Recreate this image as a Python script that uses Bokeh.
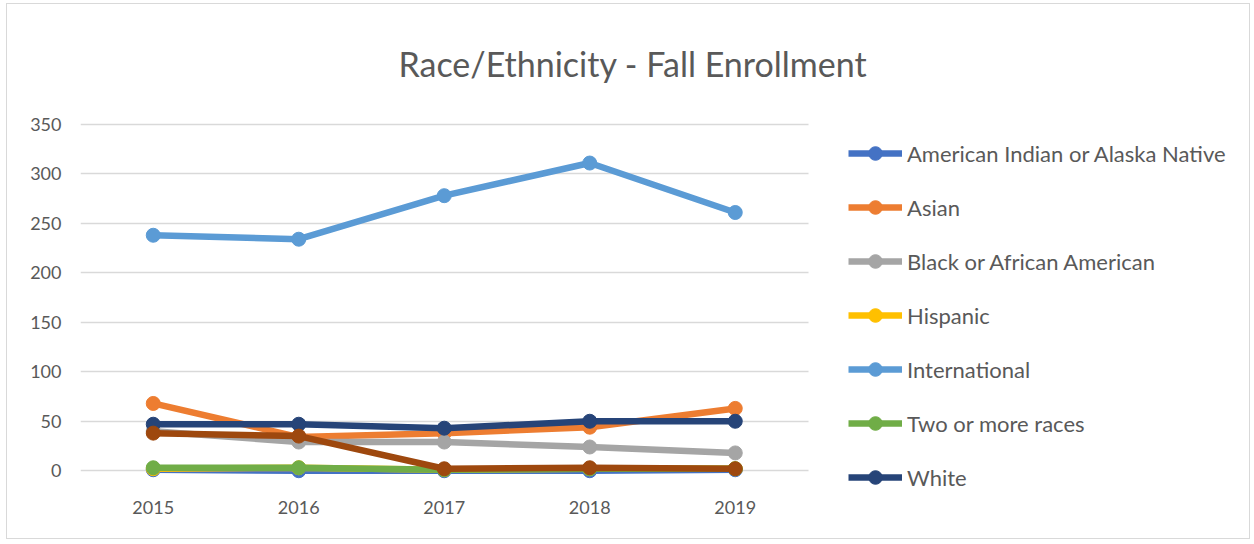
from bokeh.plotting import figure
from bokeh.models import Range1d, Legend, LegendItem, SingleIntervalTicker, FixedTicker
from bokeh.embed import file_html
from bokeh.resources import INLINE

years = ["2015", "2016", "2017", "2018", "2019"]

american_indian = [1, 0, 0, 0, 1]
asian = [68, 34, 38, 44, 63]
black = [40, 29, 29, 24, 18]
hispanic = [2, 3, 1, 2, 2]
international = [238, 234, 278, 311, 261]
two_or_more = [3, 3, 1, 2, 2]
white = [47, 47, 43, 50, 50]
unknown = [38, 35, 2, 3, 2]

series = [
    ("American Indian or Alaska Native", american_indian, "#4472C4", True),
    ("Asian", asian, "#ED7D31", True),
    ("Black or African American", black, "#A5A5A5", True),
    ("Hispanic", hispanic, "#FFC000", True),
    ("International", international, "#5B9BD5", True),
    ("Two or more races", two_or_more, "#70AD47", True),
    ("White", white, "#264478", True),
    ("Unknown", unknown, "#9E480E", False),
]

FONT = "Lato"
TXT = "#595959"

xpos = list(range(len(years)))
n = len(years)
px_per_cat = 145.5
frame_w = 1244 - 73 - 8
x_end = -0.5 + frame_w / px_per_cat

p = figure(
    width=1244, height=536,
    x_range=Range1d(-0.5, x_end),
    y_range=Range1d(-22, 355),
    output_backend="svg", toolbar_location=None,
    min_border_left=73, min_border_right=8,
    min_border_top=115, min_border_bottom=48,
)
p.styles = {"border": "1.5px solid #D9D9D9", "margin-left": "6px", "margin-top": "3px"}
p.outline_line_color = None

p.title.text = "Race/Ethnicity - Fall Enrollment"
p.title.text_font = FONT
p.title.text_font_size = "34px"
p.title.text_font_style = "normal"
p.title.text_color = TXT
p.title.align = "left"
p.title.offset = 318
p.title.standoff = 71

p.xgrid.grid_line_color = None
p.ygrid.grid_line_color = "#D9D9D9"
p.ygrid.grid_line_width = 1.5
try:
    p.ygrid.cross_bounds = (-0.5, n - 0.5)
except Exception:
    pass

p.yaxis.ticker = SingleIntervalTicker(interval=50)
p.yaxis.axis_line_color = None
p.yaxis.major_tick_line_color = None
p.yaxis.minor_tick_line_color = None
p.yaxis.major_label_text_font = FONT
p.yaxis.major_label_text_font_size = "18px"
p.yaxis.major_label_text_color = TXT
p.yaxis.major_label_standoff = 13

p.xaxis.ticker = FixedTicker(ticks=xpos)
p.xaxis.major_label_overrides = {i: y for i, y in zip(xpos, years)}
p.xaxis.axis_line_color = None
p.xaxis.major_tick_line_color = None
p.xaxis.minor_tick_line_color = None
p.xaxis.major_label_text_font = FONT
p.xaxis.major_label_text_font_size = "18px"
p.xaxis.major_label_text_color = TXT
p.xaxis.major_label_standoff = 2

items = []
for name, vals, color, show in series:
    lr = p.line(xpos, vals, line_color=color, line_width=6.5)
    sr = p.scatter(xpos, vals, marker="circle", size=14, fill_color=color, line_color=color)
    if show:
        items.append(LegendItem(label=name, renderers=[lr, sr]))

legend = Legend(items=items, location=(768, -2))
legend.border_line_color = None
legend.background_fill_alpha = 0
legend.label_text_font = FONT
legend.label_text_font_size = "22px"
legend.label_text_color = TXT
legend.glyph_width = 54
legend.glyph_height = 34
legend.label_height = 34
legend.label_standoff = 5
legend.spacing = 20
legend.padding = 0
legend.margin = 0
p.add_layout(legend, "center")

open("out.html", "w").write(file_html(p, INLINE))
